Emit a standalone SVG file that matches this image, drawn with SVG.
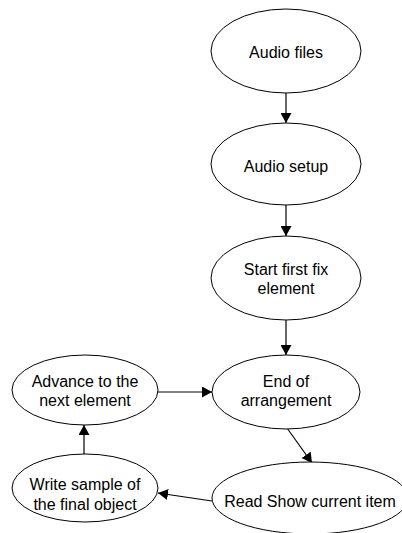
<svg xmlns="http://www.w3.org/2000/svg" width="402" height="533" viewBox="0 0 402 533">
<style>
.n ellipse{fill:#fff;stroke:#000;stroke-width:1}
.n text{font-family:"Liberation Sans",Arial,sans-serif;font-size:16px;fill:#000;text-anchor:middle}
.e line{stroke:#000;stroke-width:1.2;marker-end:url(#ah)}
</style>
<defs>
<marker id="ah" markerUnits="userSpaceOnUse" markerWidth="11" markerHeight="11" refX="10" refY="5.5" orient="auto">
<path d="M0,0 L10,5.5 L0,11 z" fill="#000"/>
</marker>
</defs>
<rect width="402" height="533" fill="#fff"/>
<g id="edges" class="e">
<line x1="286" y1="93" x2="286" y2="123"/>
<line x1="286" y1="205" x2="286" y2="236"/>
<line x1="286" y1="320" x2="286" y2="355"/>
<line x1="287" y1="428" x2="312" y2="463"/>
<line x1="212" y1="501" x2="158" y2="493"/>
<line x1="84" y1="455" x2="84" y2="425"/>
<line x1="158" y1="392" x2="212" y2="392"/>
</g>
<g id="n1" class="n"><ellipse cx="286" cy="51" rx="75" ry="42"/><text x="286" y="58">Audio files</text></g>
<g id="n2" class="n"><ellipse cx="286" cy="164" rx="75" ry="41"/><text x="286" y="172">Audio setup</text></g>
<g id="n3" class="n"><ellipse cx="286" cy="278" rx="75" ry="42"/><text x="286" y="275">Start first fix</text><text x="286" y="294">element</text></g>
<g id="n4" class="n"><ellipse cx="286" cy="392" rx="74" ry="37"/><text x="286" y="387">End of</text><text x="286" y="406">arrangement</text></g>
<g id="n5" class="n"><ellipse cx="310" cy="498" rx="98" ry="36"/><text x="310" y="507">Read Show current item</text></g>
<g id="n6" class="n"><ellipse cx="85" cy="488" rx="73" ry="34"/><text x="85" y="490">Write sample of</text><text x="85" y="510">the final object</text></g>
<g id="n7" class="n"><ellipse cx="85" cy="390" rx="73" ry="35"/><text x="85" y="387">Advance to the</text><text x="85" y="406">next element</text></g>
</svg>
